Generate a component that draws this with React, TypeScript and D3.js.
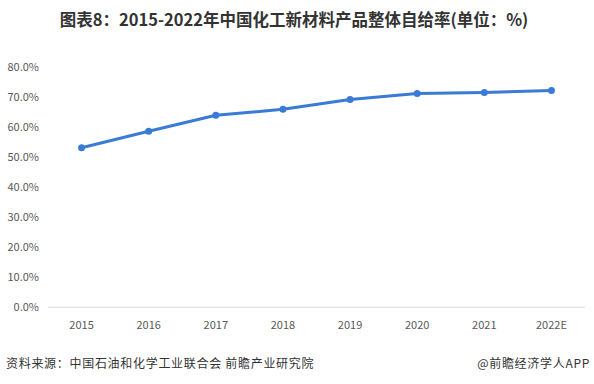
import * as d3 from 'd3';

const years = ['2015', '2016', '2017', '2018', '2019', '2020', '2021', '2022E'];
const selfSufficiency = [53.2, 58.7, 64.0, 66.0, 69.3, 71.3, 71.6, 72.3];
const yTicks = [0, 10, 20, 30, 40, 50, 60, 70, 80];

const W = 594;
const H = 384;
const FONT = '"Microsoft YaHei", "Noto Sans CJK SC", sans-serif';

export default function App() {
  const x = d3.scaleBand<string>().domain(years).range([48, 585]);
  const y = d3.scaleLinear().domain([0, 80]).range([307.3, 67.3]);

  const line = d3
    .line<number>()
    .x((_, i) => x(years[i])! + x.bandwidth() / 2)
    .y((d) => y(d));

  return (
    <div style={{ position: 'fixed', left: 0, top: 0 }}>
      <svg width={W} height={H} style={{ display: 'block', background: '#fff' }}>
        <text
          x={W / 2 - 3}
          y={26}
          textAnchor="middle"
          fontFamily={FONT}
          fontWeight="bold"
          fontSize={16.5}
          fill="#333"
        >
          图表8：2015-2022年中国化工新材料产品整体自给率(单位：%)
        </text>

        {yTicks.map((t) => (
          <text
            key={t}
            x={39}
            y={y(t)}
            dy="0.35em"
            textAnchor="end"
            fontFamily={FONT}
            fontSize={11}
            fill="#595959"
          >
            {t.toFixed(1)}%
          </text>
        ))}

        <line x1={48} x2={585} y1={y(0)} y2={y(0)} stroke="#d9d9d9" strokeWidth={1} />

        {years.map((yr) => (
          <text
            key={yr}
            x={x(yr)! + x.bandwidth() / 2}
            y={325}
            dy="0.35em"
            textAnchor="middle"
            fontFamily={FONT}
            fontSize={11}
            fill="#595959"
          >
            {yr}
          </text>
        ))}

        <path d={line(selfSufficiency)!} fill="none" stroke="#3a7bd5" strokeWidth={3} strokeLinejoin="round" />
        {selfSufficiency.map((v, i) => (
          <circle
            key={years[i]}
            cx={x(years[i])! + x.bandwidth() / 2}
            cy={y(v)}
            r={3.5}
            fill="#3a7bd5"
          />
        ))}

        <text x={6} y={364} dy="0.35em" fontFamily={FONT} fontSize={12} letterSpacing={0.7} fill="#333">
          资料来源：中国石油和化学工业联合会 前瞻产业研究院
        </text>
        <text x={590} y={364} dy="0.35em" textAnchor="end" fontFamily={FONT} fontSize={12} letterSpacing={0.7} fill="#333">
          @前瞻经济学人APP
        </text>
      </svg>
    </div>
  );
}
